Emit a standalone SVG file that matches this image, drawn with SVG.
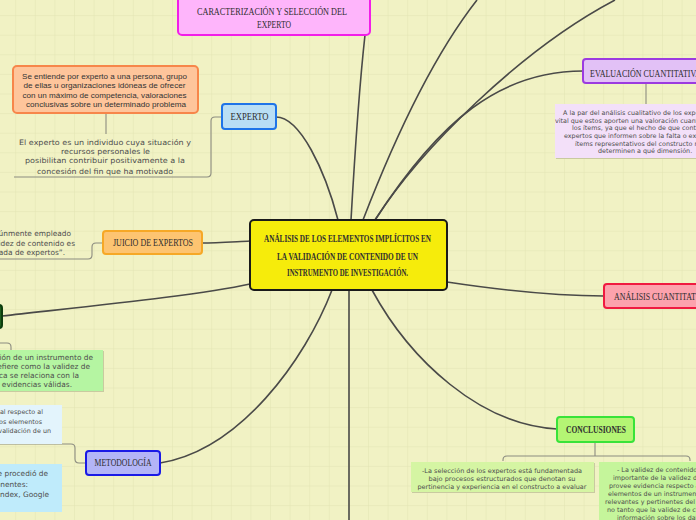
<svg xmlns="http://www.w3.org/2000/svg" width="696" height="520" viewBox="0 0 696 520">
<defs>
<pattern id="grid" patternUnits="userSpaceOnUse" x="15.2" y="15.1" width="19.6" height="19.6">
<path d="M0,0 H19.6 M0,0 V19.6" fill="none" stroke="#e2e4b3" stroke-width="1"/>
</pattern>
</defs>
<style>
.lbl{font-family:"Liberation Serif","DejaVu Serif",serif;font-size:10px;fill:#2f2f2f;text-anchor:middle}
.lbls{font-family:"Liberation Serif","DejaVu Serif",serif;font-size:10px;fill:#2f2f2f;text-anchor:start}
.hand{font-family:"Liberation Sans","DejaVu Sans",sans-serif;font-size:8px;fill:#333;text-anchor:middle}
.body{font-family:"DejaVu Sans","Liberation Sans",sans-serif;font-size:7.4px;fill:#4d4d4d}
.small{font-family:"DejaVu Sans","Liberation Sans",sans-serif;font-size:6.4px;fill:#4d4d4d}
.node{stroke-width:2}
.main{fill:none;stroke:#4a4a48;stroke-width:1.6}
.sub{fill:none;stroke:#8c8c80;stroke-width:1.1}
.shadow{fill:#c9caa0}
</style>
<rect width="696" height="520" fill="#f1f2c4"/>
<rect width="696" height="520" fill="url(#grid)"/>

<g id="connectors">
<path class="main" d="M338,220 C325,170 300,117 276,117"/>
<path class="main" d="M351,220 C355,150 360,80 365,35"/>
<path class="main" d="M363,220 C390,150 430,60 477,0"/>
<path class="main" d="M375,220 C420,150 520,50 615,0"/>
<path class="main" d="M375,220 C440,120 500,71 583,71"/>
<path class="main" d="M250,241 C230,242 215,243 202,243"/>
<path class="main" d="M250,284 C200,295 100,305 2,316"/>
<path class="main" d="M332,290 C305,360 240,450 160,463"/>
<path class="main" d="M349,290 V520"/>
<path class="main" d="M372,290 C410,360 480,425 557,429"/>
<path class="main" d="M447,282 C500,290 560,296 604,296"/>
<path class="sub" d="M106,113 V134"/>
<path class="sub" d="M14,177 H207 Q211,177 211,173 V121 Q211,117 215,117 H222"/>
<path class="sub" d="M0,259 H88 Q92,259 92,255 V247 Q92,243 96,243 H103"/>
<path class="sub" d="M0,343 H7 Q11,343 11,347 V350"/>
<path class="sub" d="M0,444 H71 Q75,444 75,448 V459 Q75,463 79,463 H86"/>
<path class="sub" d="M646,83 V104"/>
<path class="sub" d="M595,442 V456 M503,461 V460 Q503,456 507,456 H686 Q690,456 690,460 V461"/>
</g>

<g id="center">
<rect class="node" x="250" y="220" width="197" height="70" rx="4" fill="#f6ec0b" stroke="#1a1a1a"/>
<text class="lbl" font-weight="bold" font-size="9" x="347.5" y="242" textLength="167" lengthAdjust="spacingAndGlyphs">ANÁLISIS DE LOS ELEMENTOS IMPLÍCITOS EN</text>
<text class="lbl" font-weight="bold" font-size="9" x="347.5" y="259.5" textLength="141" lengthAdjust="spacingAndGlyphs">LA VALIDACIÓN DE CONTENIDO DE UN</text>
<text class="lbl" font-weight="bold" font-size="9" x="347.5" y="276" textLength="121" lengthAdjust="spacingAndGlyphs">INSTRUMENTO DE INVESTIGACIÓN.</text>
</g>

<g id="caracterizacion">
<rect class="node" x="178" y="-4" width="192" height="39" rx="4" fill="#feb5fb" stroke="#f21ee8"/>
<text class="lbl" x="272" y="14.5" textLength="150" lengthAdjust="spacingAndGlyphs">CARACTERIZACIÓN Y SELECCIÓN DEL</text>
<text class="lbl" x="274" y="27.5" textLength="34" lengthAdjust="spacingAndGlyphs">EXPERTO</text>
</g>

<g id="experto">
<rect class="node" x="222" y="104" width="54" height="25" rx="3" fill="#b9def5" stroke="#1f74e8"/>
<text class="lbl" x="249.5" y="120" textLength="38" lengthAdjust="spacingAndGlyphs">EXPERTO</text>
</g>

<g id="experto-def">
<rect class="node" x="13" y="66" width="185" height="47" rx="4" fill="#fec59b" stroke="#f7864a"/>
<text class="hand" x="104.5" y="78.5" textLength="165" lengthAdjust="spacingAndGlyphs">Se entiende por experto a una persona, grupo</text>
<text class="hand" x="104.5" y="88" textLength="162" lengthAdjust="spacingAndGlyphs">de ellas u organizaciones idóneas de ofrecer</text>
<text class="hand" x="104.5" y="97.5" textLength="164" lengthAdjust="spacingAndGlyphs">con un máximo de competencia, valoraciones</text>
<text class="hand" x="106" y="107" textLength="160" lengthAdjust="spacingAndGlyphs">conclusivas sobre un determinado problema</text>
</g>

<g id="experto-text">
<text class="body" text-anchor="middle" x="105" y="144.5" textLength="172" lengthAdjust="spacingAndGlyphs">El experto es un individuo cuya situación y</text>
<text class="body" text-anchor="middle" x="105.5" y="154" textLength="89" lengthAdjust="spacingAndGlyphs">recursos personales le</text>
<text class="body" text-anchor="middle" x="105" y="163" textLength="160" lengthAdjust="spacingAndGlyphs">posibilitan contribuir positivamente a la</text>
<text class="body" text-anchor="middle" x="105" y="173.5" textLength="136" lengthAdjust="spacingAndGlyphs">concesión del fin que ha motivado</text>
</g>

<g id="juicio">
<rect class="node" x="103" y="231" width="99" height="23" rx="3" fill="#fdc471" stroke="#f6a826"/>
<text class="lbl" x="153" y="246" textLength="80" lengthAdjust="spacingAndGlyphs">JUICIO DE EXPERTOS</text>
</g>

<g id="juicio-text">
<text class="body" font-size="8.3" text-anchor="end" x="71" y="236">es comúnmente empleado</text>
<text class="body" font-size="8.3" text-anchor="end" x="75" y="245.5">la validez de contenido es</text>
<text class="body" font-size="8.3" text-anchor="end" x="65" y="255">informada de expertos”.</text>
</g>

<g id="nodo-verde">
<rect class="node" x="-20" y="305" width="22" height="23" rx="3" fill="#1e5f1e" stroke="#0d3d0d"/>
</g>

<g id="verde-text">
<rect class="shadow" x="-2" y="351" width="106" height="41"/>
<rect x="-2" y="350" width="105" height="41" fill="#b5f5a2"/>
<text class="body" text-anchor="end" x="93" y="360">La validación de un instrumento de</text>
<text class="body" text-anchor="end" x="90" y="368.5">que se refiere como la validez de</text>
<text class="body" text-anchor="end" x="79" y="377.5">específica se relaciona con la</text>
<text class="body" text-anchor="end" x="72" y="387">evidencias válidas.</text>
</g>

<g id="metodo-text1">
<rect x="-2" y="405" width="64" height="39" fill="#e3f4fc"/>
<text class="small" text-anchor="end" x="43" y="414">el marco conceptual respecto al</text>
<text class="small" text-anchor="end" x="42" y="423.5">implicados en los elementos</text>
<text class="small" text-anchor="end" x="51" y="433">considerados en la validación de un</text>
</g>

<g id="metodo-text2">
<rect x="-2" y="464" width="64" height="48" fill="#bfebfb"/>
<text class="body" font-size="9.4" text-anchor="end" x="48" y="475.5">Para la búsqueda se procedió de</text>
<text class="body" font-size="9.4" text-anchor="end" x="28" y="486.5">los siguientes componentes:</text>
<text class="body" font-size="9.4" text-anchor="end" x="49" y="496.5">Scielo, Redalyc, Latindex, Google</text>
</g>

<g id="metodologia">
<rect class="node" x="86" y="451" width="74" height="24" rx="3" fill="#b3b5f7" stroke="#1a1ae6"/>
<text class="lbl" x="123" y="466" textLength="57" lengthAdjust="spacingAndGlyphs">METODOLOGÍA</text>
</g>

<g id="evaluacion">
<rect class="node" x="583" y="59" width="140" height="24" rx="3" fill="#e2c1f6" stroke="#9c3be0"/>
<text class="lbls" x="590" y="77" textLength="111" lengthAdjust="spacingAndGlyphs">EVALUACIÓN CUANTITATIVA</text>
</g>

<g id="evaluacion-text">
<rect class="shadow" x="556" y="105" width="182" height="54"/>
<rect x="555" y="104" width="182" height="54" fill="#f3e0f9"/>
<text class="small" x="563" y="115">A la par del análisis cualitativo de los expertos, es</text>
<text class="small" x="555" y="122.5">vital que estos aporten una valoración cuantitativa de</text>
<text class="small" x="572" y="130">los ítems, ya que el hecho de que contemos con</text>
<text class="small" x="564" y="138">expertos que informen sobre la falta o exceso de</text>
<text class="small" x="575" y="145.5">ítems representativos del constructo no nos</text>
<text class="small" x="598" y="153">determinen a qué dimensión.</text>
</g>

<g id="analisis">
<rect class="node" x="604" y="284" width="130" height="24" rx="3" fill="#fca2ad" stroke="#f01a40"/>
<text class="lbls" x="614" y="300" textLength="96" lengthAdjust="spacingAndGlyphs">ANÁLISIS CUANTITATIVO</text>
</g>

<g id="conclusiones">
<rect class="node" x="557" y="417" width="77" height="25" rx="3" fill="#b4f574" stroke="#39e339"/>
<text class="lbl" font-weight="bold" x="596" y="433" textLength="60" lengthAdjust="spacingAndGlyphs">CONCLUSIONES</text>
</g>

<g id="conclusion-1">
<rect class="shadow" x="412" y="463" width="183" height="30"/>
<rect x="411" y="462" width="183" height="30" fill="#d5f5a3"/>
<text class="small" text-anchor="middle" x="502" y="472.5" textLength="160" lengthAdjust="spacingAndGlyphs">-La selección de los expertos está fundamentada</text>
<text class="small" text-anchor="middle" x="502" y="480.5" textLength="147" lengthAdjust="spacingAndGlyphs">bajo procesos estructurados que denotan su</text>
<text class="small" text-anchor="middle" x="502" y="488.5" textLength="169" lengthAdjust="spacingAndGlyphs">pertinencia y experiencia en el constructo a evaluar</text>
</g>

<g id="conclusion-2">
<rect x="599" y="462" width="182" height="70" fill="#c5f59b"/>
<text class="small" x="617" y="471.5">- La validez de contenido es un aspecto</text>
<text class="small" x="613" y="479.5">importante de la validez de un instrumento</text>
<text class="small" x="609" y="487.5">provee evidencia respecto a que los</text>
<text class="small" x="608" y="495.5">elementos de un instrumento son</text>
<text class="small" x="605" y="503.5">relevantes y pertinentes del constructo</text>
<text class="small" x="607" y="511.5">no tanto que la validez de criterio</text>
<text class="small" x="617" y="519.5">información sobre los datos</text>
</g>
</svg>
